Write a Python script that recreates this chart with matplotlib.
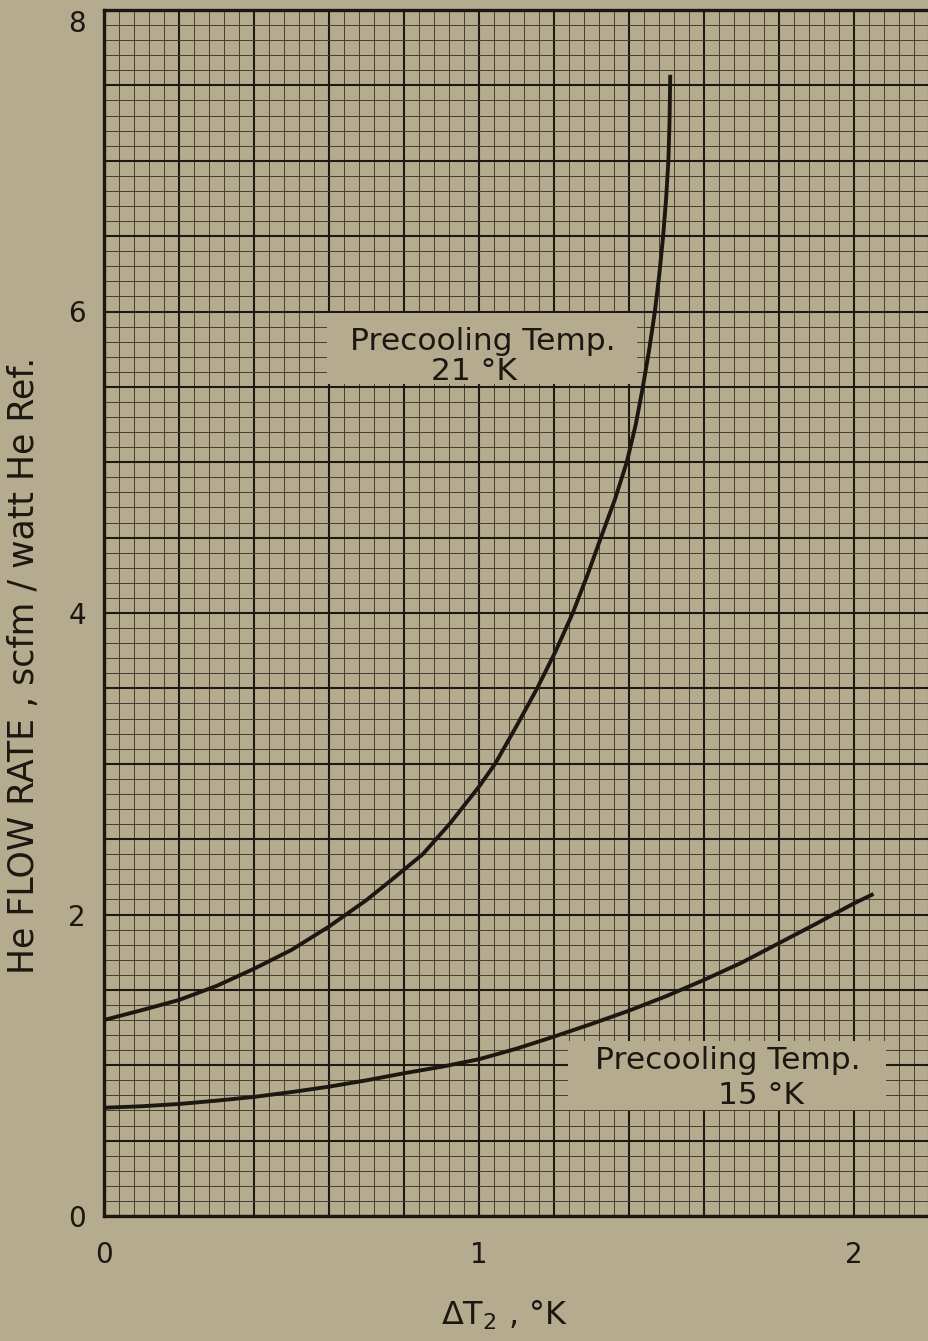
import matplotlib
matplotlib.use("Agg")
import matplotlib.pyplot as plt
from matplotlib.ticker import MultipleLocator, FuncFormatter
from matplotlib.patches import Rectangle

# ---- data ----
dt_21K = [0.0, 0.1, 0.2, 0.3, 0.4, 0.5, 0.6, 0.7, 0.767, 0.85, 0.923, 1.0,
          1.043, 1.10, 1.155, 1.205, 1.25, 1.289, 1.325, 1.362, 1.394, 1.418,
          1.437, 1.454, 1.469, 1.481, 1.491, 1.499, 1.505, 1.508, 1.510]
flow_21K = [1.30, 1.365, 1.433, 1.526, 1.64, 1.765, 1.92, 2.096, 2.23, 2.40,
            2.605, 2.848, 3.0, 3.25, 3.5, 3.75, 4.0, 4.25, 4.5, 4.75, 5.0,
            5.25, 5.5, 5.75, 6.0, 6.25, 6.5, 6.75, 7.0, 7.25, 7.57]

dt_15K = [0.0, 0.1, 0.2, 0.3, 0.4, 0.5, 0.6, 0.7, 0.8, 0.9, 1.0, 1.1, 1.2,
          1.3, 1.4, 1.5, 1.6, 1.7, 1.8, 1.9, 2.0, 2.052]
flow_15K = [0.718, 0.728, 0.743, 0.765, 0.79, 0.822, 0.858, 0.90, 0.947, 0.99,
            1.04, 1.11, 1.19, 1.274, 1.362, 1.459, 1.566, 1.68, 1.81, 1.94,
            2.074, 2.136]

label_21K = ["Precooling Temp.", "21 °K"]
label_15K = ["Precooling Temp.", "15 °K"]
x_label = "ΔT$_2$ , °K"
y_label = "He FLOW RATE , scfm / watt He Ref."

BG = "#b5ac90"
INK = "#1c1710"

fig = plt.figure(figsize=(9.29, 13.41), dpi=100, facecolor=BG)
ax = fig.add_axes([104/929, 125/1341, 825/929, 1206/1341], facecolor=BG)

ax.set_xlim(0, 2.2)
ax.set_ylim(0, 8)

ax.xaxis.set_major_locator(MultipleLocator(0.2))
ax.xaxis.set_minor_locator(MultipleLocator(0.04))
ax.yaxis.set_major_locator(MultipleLocator(0.5))
ax.yaxis.set_minor_locator(MultipleLocator(0.1))

def int_only(step, skip=()):
    def f(v, p):
        r = round(v)
        if abs(v - r) < 1e-6 and r % step == 0 and r not in skip:
            return str(int(r))
        return ""
    return f

ax.xaxis.set_major_formatter(FuncFormatter(int_only(1)))
ax.yaxis.set_major_formatter(FuncFormatter(int_only(2, skip=(8,))))

ax.tick_params(which="both", length=0, labelsize=20, colors=INK)
ax.tick_params(axis="x", pad=18)
ax.tick_params(axis="y", pad=13)

# top y label sits just below the frame top in the reference
ax.annotate("8", xy=(0, 8), xycoords="data", xytext=(-13, 0),
            textcoords="offset points", ha="right", va="top",
            fontsize=20, color=INK, annotation_clip=False)

ax.grid(which="major", color="#1f1912", lw=1.5, zorder=0)
ax.grid(which="minor", color="#463e30", lw=0.7, zorder=0)
ax.set_axisbelow(True)

for s in ["left", "bottom", "top"]:
    ax.spines[s].set_linewidth(2.4)
    ax.spines[s].set_color(INK)
ax.spines["right"].set_visible(False)

ax.plot(dt_21K, flow_21K, color=INK, lw=2.8, zorder=3, solid_capstyle="butt",
        solid_joinstyle="round")
ax.plot(dt_15K, flow_15K, color=INK, lw=2.8, zorder=3, solid_capstyle="butt",
        solid_joinstyle="round")

# label boxes
ax.add_patch(Rectangle((0.595, 5.52), 1.421 - 0.595, 5.99 - 5.52,
                       facecolor=BG, edgecolor="none", zorder=4))
ax.text(1.011, 5.80, label_21K[0], ha="center", va="center", fontsize=22.5,
        color=INK, zorder=5)
ax.text(0.987, 5.60, label_21K[1], ha="center", va="center", fontsize=22.5,
        color=INK, zorder=5)

ax.add_patch(Rectangle((1.237, 0.703), 2.085 - 1.237, 1.161 - 0.703,
                       facecolor=BG, edgecolor="none", zorder=4))
ax.text(1.663, 1.03, label_15K[0], ha="center", va="center", fontsize=22.5,
        color=INK, zorder=5)
ax.text(1.752, 0.80, label_15K[1], ha="center", va="center", fontsize=22.5,
        color=INK, zorder=5)

fig.text(24/929, 1 - 665/1341, y_label, rotation=90, ha="center", va="center",
         fontsize=25, color=INK)
fig.text(505/929, 1 - 1315/1341, x_label, ha="center", va="center",
         fontsize=23, color=INK)

fig.savefig("out.png", dpi=100, facecolor=BG)
